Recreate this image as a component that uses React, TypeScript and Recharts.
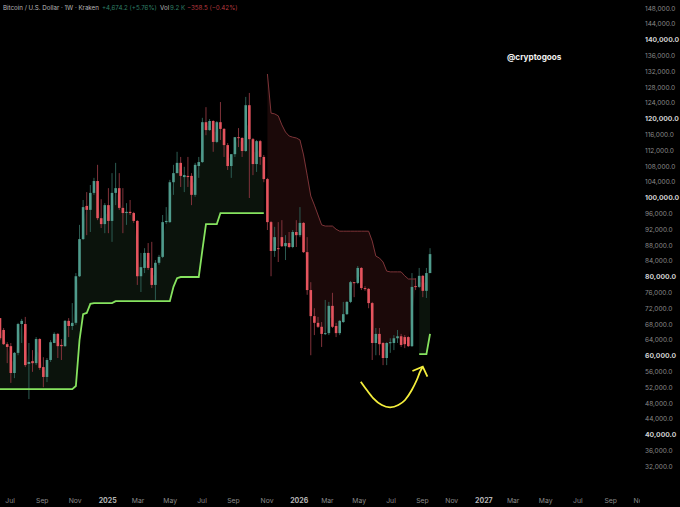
import React from "react";
import { ComposedChart, Area, Bar, Line, XAxis, YAxis } from "recharts";

// All prices are in thousands of USD; one entry per weekly candle.
const opens = [
  69.5,66.5,62.9,62.4,55.6,60.7,68.0,68.0,57.9,58.6,
  58.1,64.2,57.1,54.6,58.9,63.2,65.5,62.7,62.4,68.8,
  67.5,68.3,80.1,89.5,97.9,96.9,101.2,104.2,94.8,93.3,
  98.1,94.1,101.2,102.4,97.4,96.1,96.4,96.1,94.1,80.1,
  82.2,86.0,82.2,77.9,83.5,85.0,93.8,93.8,103.9,106.2,
  108.8,105.2,105.5,105.5,100.7,108.0,109.0,119.1,117.1,119.4,
  114.1,119.1,117.4,113.3,108.0,111.0,115.3,115.1,111.8,123.4,
  114.8,108.5,114.3,110.3,104.7,93.8,86.5,87.2,90.0,87.7,
  88.5,87.5,91.3,90.5,93.6,86.2,76.6,70.0,68.3,67.3,
  65.5,65.7,72.6,67.5,65.7,68.5,70.5,73.6,78.6,78.4,
  82.2,77.1,76.9,73.3,63.2,65.5,63.2,59.4,63.2,63.2,
  64.4,64.9,64.7,64.7,62.4,77.6,77.4,80.2,76.4,80.9,
];
const closes = [
  64.4,62.9,62.2,55.6,60.7,68.0,68.8,57.6,58.4,58.1,
  64.2,56.9,54.6,58.9,63.4,65.5,62.4,62.4,68.8,67.5,
  68.3,80.1,89.5,97.6,96.9,101.2,104.2,94.8,93.3,98.1,
  94.1,101.2,102.4,97.4,96.1,96.4,96.1,94.1,80.1,82.4,
  86.0,82.2,77.9,83.5,85.0,93.8,94.1,103.9,106.2,108.8,
  105.5,105.7,105.2,100.7,108.3,109.0,119.1,117.1,119.4,114.1,
  119.1,117.4,113.3,108.0,111.0,115.3,115.1,111.8,123.4,114.8,
  108.5,114.3,110.3,104.7,93.8,86.5,90.0,87.0,87.7,88.5,
  87.5,91.3,90.5,93.6,86.2,76.6,70.0,68.3,67.3,65.5,
  65.7,72.6,67.3,65.7,68.8,70.5,73.6,78.6,78.4,82.2,
  77.1,76.9,73.3,63.2,65.5,62.9,59.4,63.2,63.4,64.4,
  64.9,62.7,62.9,62.4,77.4,77.4,80.2,76.4,80.9,85.7,
];
const highs = [
  69.5,67.0,63.4,63.2,60.9,68.3,69.3,69.8,63.2,61.4,
  64.7,64.4,59.6,59.4,63.9,65.9,65.7,64.2,69.0,69.5,
  73.3,80.9,93.1,99.4,101.4,103.2,105.0,108.3,99.6,98.6,
  102.4,106.2,108.8,106.2,102.4,98.6,99.4,96.4,94.3,86.0,
  87.2,88.5,88.8,84.2,85.5,95.6,97.6,104.5,108.3,111.6,
  110.3,107.8,110.3,106.2,108.8,110.3,120.2,122.9,119.9,119.6,
  119.4,124.2,117.6,113.8,111.0,115.3,117.6,115.3,125.5,126.5,
  115.1,114.6,114.6,110.8,105.0,94.1,92.6,93.8,94.3,90.5,
  91.3,91.8,94.3,97.6,93.8,90.0,78.6,72.0,69.8,68.5,
  74.1,73.6,75.9,68.3,69.0,73.6,73.8,78.9,78.6,82.7,
  82.4,77.6,77.1,73.6,67.0,67.0,63.4,63.4,64.4,65.2,
  66.5,65.5,65.2,64.9,80.9,79.6,82.2,80.4,82.2,87.2,
];
const lows = [
  63.9,62.7,58.1,53.1,54.3,60.1,63.2,57.1,49.0,55.9,
  57.6,56.4,52.0,53.3,58.4,63.2,59.4,58.9,62.2,64.7,
  66.5,67.8,79.9,89.3,90.5,91.3,100.7,94.3,92.3,91.0,
  91.0,88.8,98.1,96.9,91.0,93.1,95.6,93.6,77.9,76.1,
  80.9,81.7,77.1,74.1,83.0,84.7,93.3,93.6,100.7,106.2,
  102.7,101.4,102.7,98.1,100.2,105.0,108.8,115.8,116.9,111.6,
  113.8,114.6,110.3,107.0,105.0,110.3,112.8,110.3,111.6,99.9,
  105.7,106.5,108.3,103.9,91.8,80.1,85.0,83.7,87.5,84.2,
  87.2,87.2,87.5,90.0,86.0,75.4,60.1,65.2,67.0,62.2,
  65.2,65.2,67.0,64.7,65.2,68.3,70.3,73.3,74.8,78.1,
  76.6,76.4,72.0,58.9,60.1,60.1,57.6,57.6,60.7,61.4,
  63.2,62.2,61.9,62.2,62.2,76.6,77.1,74.8,74.6,80.9,
];
const N = null;
const trendUp = [
  51.5,51.5,51.5,51.5,51.5,51.5,51.5,51.5,51.5,51.5,
  51.5,51.5,51.5,51.5,51.5,51.5,51.5,51.5,51.5,51.5,
  51.5,52.3,63.9,70.5,70.8,73.1,73.3,73.3,73.3,73.3,
  73.3,73.3,73.8,73.8,73.8,73.8,73.8,73.8,73.8,73.8,
  73.8,73.8,73.8,73.8,73.8,73.8,73.8,73.8,77.4,79.6,
  79.9,79.9,79.9,79.9,79.9,79.9,86.7,93.3,93.3,93.3,
  93.3,96.1,96.1,96.1,96.1,96.1,96.1,96.1,96.1,96.1,
  96.1,96.1,96.1,96.1,N,N,N,N,N,N,
  N,N,N,N,N,N,N,N,N,N,
  N,N,N,N,N,N,N,N,N,N,
  N,N,N,N,N,N,N,N,N,N,
  N,N,N,N,N,N,60.4,60.4,60.4,65.5,
];
const trendDown = [
  N,N,N,N,N,N,N,N,N,N,
  N,N,N,N,N,N,N,N,N,N,
  N,N,N,N,N,N,N,N,N,N,
  N,N,N,N,N,N,N,N,N,N,
  N,N,N,N,N,N,N,N,N,N,
  N,N,N,N,N,N,N,N,N,N,
  N,N,N,N,N,N,N,N,N,N,
  N,N,N,N,131.3,121.4,121.2,120.7,118.4,116.6,
  115.6,115.3,115.1,114.6,110.8,105.7,100.4,98.1,95.6,93.1,
  92.8,92.8,92.8,92.0,91.5,91.5,91.5,91.5,91.5,91.5,
  91.5,91.5,91.5,89.0,85.2,84.7,83.7,81.4,81.2,81.2,
  81.2,81.2,80.2,79.4,79.4,79.4,N,N,N,N,
];

const arrowCurveX = [99.83,101.49,103.32,105.65,107.94,110.24,112.09,113.95,115.33,116.25,116.99];
const arrowCurveV = [53.4,51.3,49.2,47.5,46.92,47.5,48.77,51.3,53.83,55.93,57.2];
const arrowHeadX = [114.12,116.99,118.27];
const arrowHeadV = [56.11,57.2,54.67];

const priceTicks = [148,144,140,136,132,128,124,120,116,112,108,104,100,96,92,88,84,80,76,72,68,64,60,56,52,48,44,40,36,32];
const strongPrices = [140,120,100,80,60,40];
const timeLabels = ["Jul","Sep","Nov","2025","Mar","May","Jul","Sep","Nov","2026","Mar","May","Jul","Sep","Nov","2027","Mar","May","Jul","Sep","Nov"];
const timeTicks = [2.8,11.7,20.8,29.8,38.2,47.1,55.9,64.6,73.9,82.8,90.6,99.4,108.2,116.9,125,133.9,142,151,159.9,169,177.1];

const TEAL = "#4f9b8c";
const TEAL_WICK = "#2c5c52";
const RED = "#e5545e";
const RED_WICK = "#80323a";
const FONT = "Inter, 'Liberation Sans', sans-serif";

const table = opens.map((o, i) => {
  const mid = (o + closes[i]) / 2;
  return {
    i,
    open: o,
    close: closes[i],
    high: highs[i],
    low: lows[i],
    range: [lows[i], highs[i]],
    up: trendUp[i],
    down: trendDown[i],
    upBand: trendUp[i] == null ? null : [trendUp[i], mid],
    downBand: trendDown[i] == null ? null : [mid, trendDown[i]],
  };
});
const arrowCurve = arrowCurveX.map((i, k) => ({ i, v: arrowCurveV[k] }));
const arrowHead = arrowHeadX.map((i, k) => ({ i, v: arrowHeadV[k] }));

function Candle(props: any) {
  const { x, y, width, height, payload } = props;
  const { open, close, high, low } = payload;
  const k = height / (high - low);
  const cx = x + width / 2;
  const rising = close >= open;
  const top = y + (high - Math.max(open, close)) * k;
  const bodyH = Math.max(Math.abs(open - close) * k, 1);
  return (
    <g>
      <line x1={cx} x2={cx} y1={y} y2={y + height} stroke={rising ? TEAL_WICK : RED_WICK} strokeWidth={1} />
      <rect x={cx - 1.3} y={top} width={2.6} height={bodyH} fill={rising ? TEAL : RED} />
    </g>
  );
}

function PriceTick(props: any) {
  const { y, payload } = props;
  const strong = strongPrices.includes(payload.value);
  const label = (payload.value * 1000).toLocaleString("en-US", { minimumFractionDigits: 1 });
  return (
    <text x={645} y={y + 2.6} fontFamily={FONT} fontSize={strong ? 6.8 : 6.5} fontWeight={strong ? 700 : 400} fill={strong ? "#cfcfcf" : "#8a8a8a"}>
      {label}
    </text>
  );
}

function TimeTick(props: any) {
  const { x, payload, index } = props;
  const label = timeLabels[index];
  const strong = label.length === 4;
  return (
    <svg x={0} y={0} width={640} height={507}>
      <text x={x} y={502.5} textAnchor="middle" fontFamily={FONT} fontSize={strong ? 7 : 6.8} fontWeight={strong ? 700 : 400} fill={strong ? "#b5b5b5" : "#8a8a8a"}>
        {label ?? payload.value}
      </text>
    </svg>
  );
}

const textBase: React.CSSProperties = { position: "absolute", fontFamily: FONT, whiteSpace: "nowrap", lineHeight: "10px" };

export default function App() {
  return (
    <div style={{ position: "absolute", left: 0, top: 0, width: 680, height: 507, background: "#000", overflow: "hidden" }}>
      <ComposedChart width={680} height={507} data={table} margin={{ top: 0, right: 0, bottom: 0, left: 0 }}>
        <XAxis
          dataKey="i"
          type="number"
          domain={[0, 177.1]}
          ticks={timeTicks}
          interval={0}
          height={19}
          axisLine={false}
          tickLine={false}
          tick={<TimeTick />}
        />
        <YAxis
          orientation="right"
          type="number"
          domain={[26.49, 150.03]}
          ticks={priceTicks}
          interval={0}
          width={40}
          axisLine={false}
          tickLine={false}
          tick={<PriceTick />}
        />
        <Area dataKey="upBand" stroke="none" fill="#0b130c" fillOpacity={1} type="linear" isAnimationActive={false} dot={false} activeDot={false} />
        <Area dataKey="downBand" stroke="none" fill="#1b0909" fillOpacity={1} type="linear" isAnimationActive={false} dot={false} activeDot={false} />
        <Bar dataKey="range" barSize={3} isAnimationActive={false} shape={<Candle />} />
        <Line dataKey="up" stroke="#86e35f" strokeWidth={1.8} dot={false} activeDot={false} type="linear" isAnimationActive={false} />
        <Line dataKey="down" stroke="#7d3438" strokeWidth={1} dot={false} activeDot={false} type="linear" isAnimationActive={false} />
        <Line data={arrowCurve} dataKey="v" stroke="#f4ee3c" strokeWidth={1.8} dot={false} activeDot={false} type="monotone" isAnimationActive={false} />
        <Line data={arrowHead} dataKey="v" stroke="#f4ee3c" strokeWidth={1.8} dot={false} activeDot={false} type="linear" isAnimationActive={false} />
      </ComposedChart>
      <div style={{ ...textBase, left: 3, top: 3, fontSize: 6.2, color: "#b8b8b8" }}>Bitcoin / U.S. Dollar · 1W · Kraken</div>
      <div style={{ ...textBase, left: 102, top: 3, fontSize: 6.2, color: "#2f7f66" }}>+4,674.2 (+5.76%)</div>
      <div style={{ ...textBase, left: 160, top: 3, fontSize: 6.2, color: "#b8b8b8" }}>Vol</div>
      <div style={{ ...textBase, left: 170, top: 3, fontSize: 6.2, color: "#2f7f66" }}>9.2 K</div>
      <div style={{ ...textBase, left: 187, top: 3, fontSize: 6.2, color: "#b5393f" }}>−358.5 (−0.42%)</div>
      <div style={{ ...textBase, left: 507, top: 52, fontSize: 8.2, fontWeight: 700, color: "#f0f0f0" }}>@cryptogoos</div>
    </div>
  );
}
